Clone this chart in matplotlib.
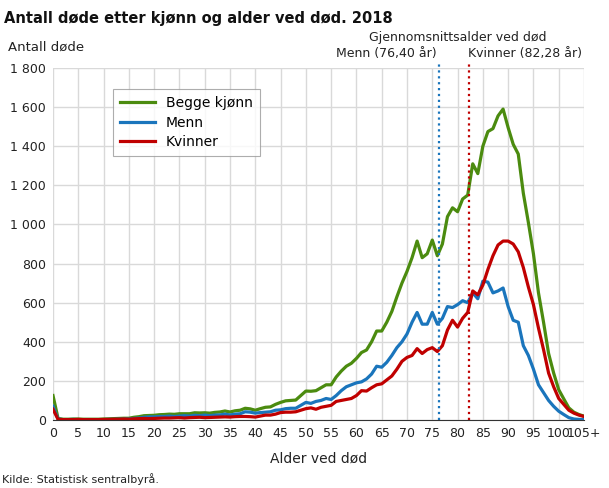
import numpy as np
import matplotlib.pyplot as plt
from matplotlib.ticker import FuncFormatter

ages = np.arange(0, 106)
menn = [70, 5, 2, 2, 3, 2, 2, 2, 2, 2, 2, 3, 3, 4, 4, 5, 8, 10, 14, 16,
        16, 18, 18, 20, 18, 20, 22, 20, 24, 22, 25, 22, 25, 26, 30, 26, 30, 32, 42, 40,
        35, 38, 40, 42, 50, 52, 58, 60, 60, 75, 90, 85, 95, 100, 110, 105, 125, 150, 170, 180,
        190, 195, 210, 235, 275, 270, 295, 330, 370, 400,
        440, 500, 550, 490, 490, 550, 490, 520, 580, 575,
        590, 610, 600, 650, 620, 710, 705, 650, 660, 675,
        580, 510, 500, 380, 330, 260, 180, 140, 100, 70,
        45, 28, 12, 5, 3, 2]
kvinner = [55, 3, 2, 2, 2, 3, 2, 2, 2, 2, 3, 3, 4, 4, 5, 4, 6, 7, 8, 7,
           8, 9, 10, 10, 11, 12, 10, 12, 13, 14, 12, 13, 14, 15, 16, 15, 17, 18, 18, 17,
           15, 20, 25, 25, 30, 38, 40, 40, 42, 50, 58, 62, 55, 65, 70, 75, 95, 100, 105, 110,
           125, 150, 148, 165, 180, 185, 205, 225, 260, 300,
           320, 330, 365, 340, 360, 370, 350, 380, 460, 510,
           475, 520, 550, 660, 640, 690, 770, 840, 895, 915,
           915, 900, 860, 780, 680, 590, 470, 360, 240, 170,
           110, 80, 50, 35, 25, 18]
begge = np.array(menn) + np.array(kvinner)

snitt_menn = 76.40
snitt_kvinner = 82.28

green, blue, red = '#4b8b0f', '#1a75bc', '#c00000'

fig = plt.figure(figsize=(6.09, 4.88), dpi=100)
ax = fig.add_axes([53 / 609, 68 / 488, 531 / 609, 352 / 488])

ax.plot(ages, begge, color=green, lw=2.3, label='Begge kjønn')
ax.plot(ages, menn, color=blue, lw=2.3, label='Menn')
ax.plot(ages, kvinner, color=red, lw=2.3, label='Kvinner')

ax.axvline(snitt_menn, ymax=1.015, color=blue, ls=':', lw=1.6, clip_on=False)
ax.axvline(snitt_kvinner, ymax=1.015, color=red, ls=':', lw=1.6, clip_on=False)

ax.set_xlim(0, 105)
ax.set_ylim(0, 1800)
ax.set_xticks(range(0, 106, 5))
ax.set_xticklabels([str(a) for a in range(0, 105, 5)] + ['105+'])
ax.set_yticks(range(0, 1801, 200))
ax.yaxis.set_major_formatter(FuncFormatter(lambda v, p: f'{int(v):,}'.replace(',', ' ')))
ax.grid(True, color='#d9d9d9', lw=1)
ax.set_axisbelow(True)
for s in ['top', 'right', 'left']:
    ax.spines[s].set_visible(False)
ax.spines['bottom'].set_color('#333333')
ax.tick_params(length=0, labelsize=9, colors='#222222', pad=5)
ax.set_xlabel('Alder ved død', fontsize=10, color='#222222', labelpad=8)

leg = ax.legend(loc='upper left', bbox_to_anchor=(0.1, 0.96), fontsize=10,
                frameon=True, fancybox=False, edgecolor='#999999', handlelength=2.5,
                borderpad=0.5, labelspacing=0.4)
leg.get_frame().set_linewidth(0.8)

fig.text(4 / 609, 1 - 18 / 488, 'Antall døde etter kjønn og alder ved død. 2018',
         fontsize=10.5, fontweight='bold', va='center', color='#111111')
fig.text(8 / 609, 1 - 47 / 488, 'Antall døde', fontsize=9.5, va='center', color='#222222')
fig.text(458 / 609, 1 - 37 / 488, 'Gjennomsnittsalder ved død', fontsize=9, ha='center',
         va='center', color='#222222')
fig.text(437 / 609, 1 - 54 / 488, 'Menn (76,40 år)', fontsize=9, ha='right', va='center',
         color='#222222')
fig.text(468 / 609, 1 - 54 / 488, 'Kvinner (82,28 år)', fontsize=9, ha='left', va='center',
         color='#222222')
fig.text(2 / 609, 1 - 479 / 488, 'Kilde: Statistisk sentralbyrå.', fontsize=8, va='center',
         color='#222222')

fig.savefig('out.png', dpi=100)
